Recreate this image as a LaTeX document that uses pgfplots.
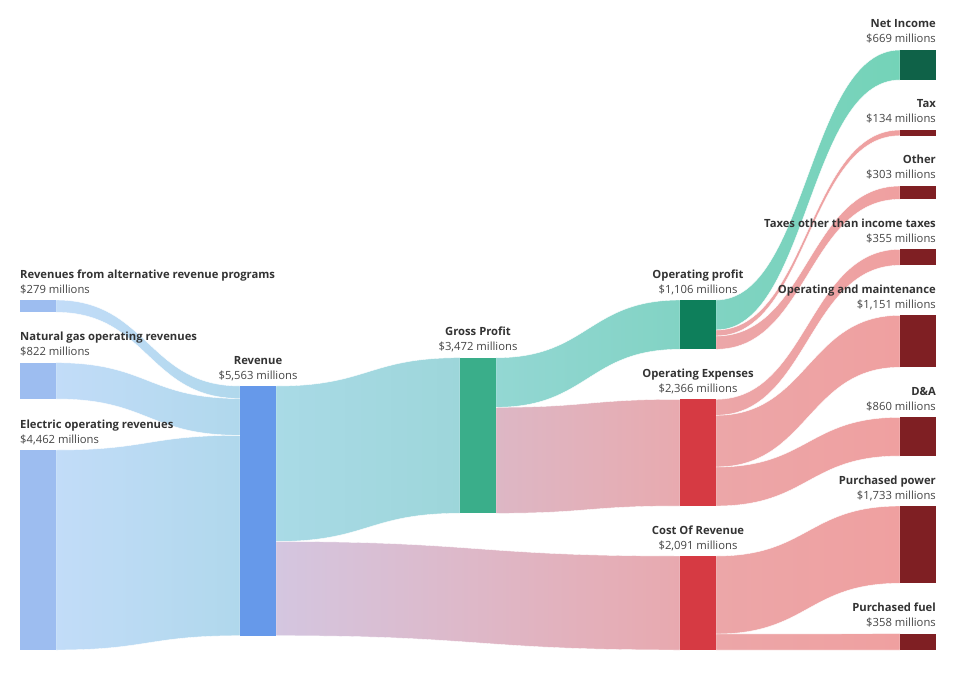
\documentclass[border=0pt]{standalone}
\usepackage{pgfplots}
\pgfplotsset{compat=1.18}
\usepackage{fontspec}
\setmainfont{Open Sans}
\definecolor{nodeA}{HTML}{9DBDF0}
\definecolor{nodeRev}{HTML}{6699EA}
\definecolor{nodeGP}{HTML}{3AAE8A}
\definecolor{nodeOP}{HTML}{0E7F5B}
\definecolor{nodeNI}{HTML}{0F6248}
\definecolor{nodeEx}{HTML}{D63A43}
\definecolor{nodeLf}{HTML}{7F1F23}
\definecolor{txtN}{HTML}{333333}
\definecolor{txtV}{HTML}{444444}
\definecolor{lBlueL}{HTML}{C2DCF8}
\definecolor{lBlueR}{HTML}{B0D8EC}
\definecolor{lCyanL}{HTML}{A9DAE6}
\definecolor{lCyanR}{HTML}{9DD6DA}
\definecolor{lPurL}{HTML}{D4C6E0}
\definecolor{lPurR}{HTML}{E8A9AF}
\definecolor{lTealL}{HTML}{93D7D3}
\definecolor{lTealR}{HTML}{82D3C4}
\definecolor{lRoseL}{HTML}{DDB7C5}
\definecolor{lRoseR}{HTML}{E8AAAF}
\definecolor{lGrnL}{HTML}{80D3C2}
\definecolor{lGrnR}{HTML}{74D3B8}
\definecolor{lPinkL}{HTML}{ECA6A8}
\definecolor{lPinkR}{HTML}{EFA0A0}
% link: x0, x1, xm, y0top, y0bot, y1top, y1bot, left colour, right colour
\newcommand{\link}[9]{%
  \shade[left color=#8, right color=#9, draw=white, line width=0.4pt]
  (#1,#4) .. controls (#3,#4) and (#3,#6) .. (#2,#6) -- (#2,#7)
  .. controls (#3,#7) and (#3,#5) .. (#1,#5) -- cycle;}
\newcommand{\nodebox}[5]{%
  \addplot[fill=#5, draw=none] coordinates {(#1,#3) (#2,#3) (#2,#4) (#1,#4)} -- cycle;}
\newcommand{\lab}[5]{% x, top, anchor side, name, value
  \node[anchor=base #3, inner sep=0pt, font=\fontsize{11.3}{13}\selectfont\bfseries, text=txtN] at (#1,#2-22) {#4};
  \node[anchor=base #3, inner sep=0pt, font=\fontsize{11.3}{13}\selectfont, text=txtV] at (#1,#2-7) {#5};}
\begin{document}
\begin{tikzpicture}
\begin{axis}[
  x=1bp, y=1bp, y dir=reverse,
  xmin=0, xmax=956, ymin=0, ymax=676,
  scale only axis, hide axis, clip=false,
]
\addplot[draw=none] coordinates {(0,0) (956,676)};
% links
\link{56}{240}{148}{300}{312.3}{386}{398.5}{lBlueL}{lBlueR}
\link{56}{240}{148}{362.7}{399}{398.5}{435.3}{lBlueL}{lBlueR}
\link{56}{240}{148}{450}{650}{435.3}{635.7}{lBlueL}{lBlueR}
\link{276}{460}{368}{386}{541.5}{357.7}{513.3}{lCyanL}{lCyanR}
\link{276}{680}{478}{541.5}{635.7}{556}{650}{lPurL}{lPurR}
\link{496}{680}{588}{357.7}{407.3}{300}{349.3}{lTealL}{lTealR}
\link{496}{680}{588}{407.3}{513.3}{399.3}{506}{lRoseL}{lRoseR}
\link{716}{900}{808}{300}{330}{50}{80}{lGrnL}{lGrnR}
\link{716}{900}{808}{330}{336}{130}{135.7}{lPinkL}{lPinkR}
\link{716}{900}{808}{336}{349.3}{186}{199.3}{lPinkL}{lPinkR}
\link{716}{900}{808}{399.3}{415.3}{249.3}{265.3}{lPinkL}{lPinkR}
\link{716}{900}{808}{415.3}{467}{315.3}{367.3}{lPinkL}{lPinkR}
\link{716}{900}{808}{467}{506}{417.3}{456}{lPinkL}{lPinkR}
\link{716}{900}{808}{556}{634}{506}{583.3}{lPinkL}{lPinkR}
\link{716}{900}{808}{634}{650}{633.7}{650}{lPinkL}{lPinkR}
% nodes
\nodebox{20}{56}{300}{312.3}{nodeA}
\nodebox{20}{56}{362.7}{399}{nodeA}
\nodebox{20}{56}{450}{650}{nodeA}
\nodebox{240}{276}{386}{635.7}{nodeRev}
\nodebox{460}{496}{357.7}{513.3}{nodeGP}
\nodebox{680}{716}{300}{349.3}{nodeOP}
\nodebox{680}{716}{399.3}{506}{nodeEx}
\nodebox{680}{716}{556}{650}{nodeEx}
\nodebox{900}{936}{50}{80}{nodeNI}
\nodebox{900}{936}{130}{135.7}{nodeLf}
\nodebox{900}{936}{186}{199.3}{nodeLf}
\nodebox{900}{936}{249.3}{265.3}{nodeLf}
\nodebox{900}{936}{315.3}{367.3}{nodeLf}
\nodebox{900}{936}{417.3}{456}{nodeLf}
\nodebox{900}{936}{506}{583.3}{nodeLf}
\nodebox{900}{936}{633.7}{650}{nodeLf}
% labels
\lab{20}{300}{west}{Revenues from alternative revenue programs}{\$279 millions}
\lab{20}{362.7}{west}{Natural gas operating revenues}{\$822 millions}
\lab{20}{450}{west}{Electric operating revenues}{\$4,462 millions}
\lab{258}{386}{}{Revenue}{\$5,563 millions}
\lab{478}{357.7}{}{Gross Profit}{\$3,472 millions}
\lab{698}{300}{}{Operating profit}{\$1,106 millions}
\lab{698}{399.3}{}{Operating Expenses}{\$2,366 millions}
\lab{698}{556}{}{Cost Of Revenue}{\$2,091 millions}
\lab{936}{50}{east}{Net Income}{\$669 millions}
\lab{936}{130}{east}{Tax}{\$134 millions}
\lab{936}{186}{east}{Other}{\$303 millions}
\lab{936}{249.3}{east}{Taxes other than income taxes}{\$355 millions}
\lab{936}{315.3}{east}{Operating and maintenance}{\$1,151 millions}
\lab{936}{417.3}{east}{D\&A}{\$860 millions}
\lab{936}{506}{east}{Purchased power}{\$1,733 millions}
\lab{936}{633.7}{east}{Purchased fuel}{\$358 millions}
\end{axis}
\end{tikzpicture}
\end{document}
